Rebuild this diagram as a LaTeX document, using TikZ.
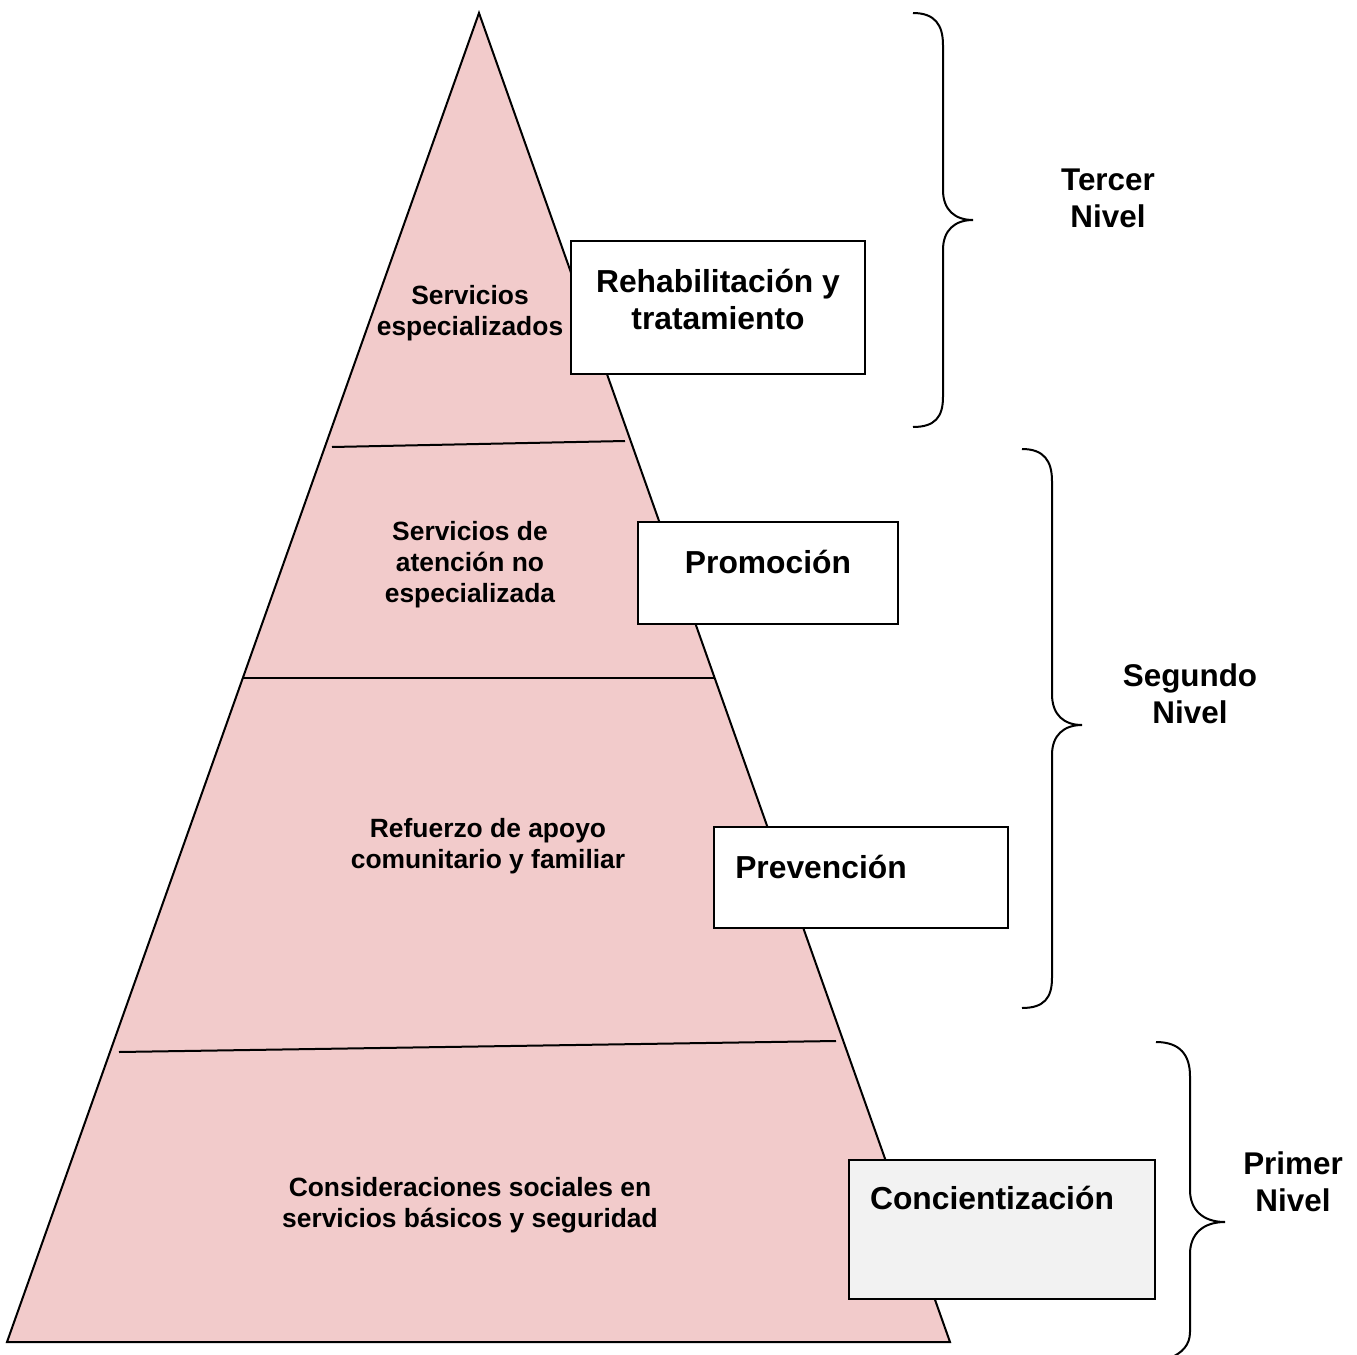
\documentclass[tikz,border=0pt]{standalone}
\usepackage{fontspec}
\setmainfont{Liberation Sans}
\definecolor{pyrpink}{RGB}{242,203,203}
\definecolor{boxgray}{RGB}{242,242,242}
\begin{document}
\begin{tikzpicture}[x=0.5pt,y=-0.5pt,
  edge/.style={draw=black,line width=1pt},
  bracepath/.style={draw=black,line width=1pt},
  boxrect/.style={draw=black,line width=1pt,fill=white,inner sep=0pt},
  bodytext/.style={font=\fontsize{13.2}{15.5}\selectfont\bfseries,align=center,inner sep=0pt},
  boxtext/.style={font=\fontsize{15.9}{18.5}\selectfont\bfseries,align=center,inner sep=0pt},
  leveltext/.style={font=\fontsize{15.7}{18.5}\selectfont\bfseries,align=center,inner sep=0pt}]
\useasboundingbox (0,0) rectangle (1357,1355);
\clip (0,0) rectangle (1357,1355);
% pyramid
\coordinate (apex) at (479,13);
\coordinate (bl) at (7,1342);
\coordinate (br) at (950,1342);
\draw[edge,fill=pyrpink,line join=miter] (apex) -- (br) -- (bl) -- cycle;
% dividers
\coordinate (d1a) at (332,447); \coordinate (d1b) at (625,441);
\coordinate (d2a) at (243,678); \coordinate (d2b) at (714,678);
\coordinate (d3a) at (119,1052); \coordinate (d3b) at (836,1041);
\draw[edge] (d1a) -- (d1b);
\draw[edge] (d2a) -- (d2b);
\draw[edge] (d3a) -- (d3b);
% pyramid texts
\node[bodytext] (t1) at (470,313) {Servicios\\especializados};
\node[bodytext] (t2) at (470,565) {Servicios de\\atención no\\especializada};
\node[bodytext] (t3) at (488,846) {Refuerzo de apoyo\\comunitario y familiar};
\node[bodytext] (t4) at (470,1205) {Consideraciones sociales en\\servicios básicos y seguridad};
% boxes
\draw[boxrect] (571,241) rectangle (865,374) coordinate (b1);
\draw[boxrect] (638,522) rectangle (898,624) coordinate (b2);
\draw[boxrect] (714,827) rectangle (1008,928) coordinate (b3);
\draw[boxrect,fill=boxgray] (849,1160) rectangle (1155,1299) coordinate (b4);
\node[boxtext] (r1) at (718,299) {Rehabilitación y\\tratamiento};
\node[boxtext] (r2) at (768,562) {Promoción};
\node[boxtext] (r3) at (821,867) {Prevención};
\node[boxtext] (r4) at (992,1198) {Concientización};
% braces
\draw[bracepath] (913,13) .. controls (935,13) and (943,25) .. (943,45) -- (943,190)
  .. controls (943,210) and (955,220) .. (973,220)
  .. controls (955,220) and (943,230) .. (943,250) -- (943,397)
  .. controls (943,417) and (935,427) .. (913,427);
\draw[bracepath] (1022,449) .. controls (1044,449) and (1052,461) .. (1052,481) -- (1052,694)
  .. controls (1052,715) and (1064,725) .. (1082,725)
  .. controls (1064,725) and (1052,735) .. (1052,755) -- (1052,978)
  .. controls (1052,998) and (1044,1008) .. (1022,1008);
\draw[bracepath] (1156,1042) .. controls (1180,1042) and (1190,1055) .. (1190,1076) -- (1190,1190)
  .. controls (1190,1210) and (1203,1222) .. (1225,1222)
  .. controls (1203,1222) and (1190,1234) .. (1190,1254) -- (1190,1332)
  .. controls (1190,1345) and (1182,1353) .. (1170,1358);
% level labels
\node[leveltext] (l1) at (1108,198) {Tercer\\Nivel};
\node[leveltext] (l2) at (1190,694) {Segundo\\Nivel};
\node[leveltext] (l3) at (1293,1182) {Primer\\Nivel};
\end{tikzpicture}
\end{document}
